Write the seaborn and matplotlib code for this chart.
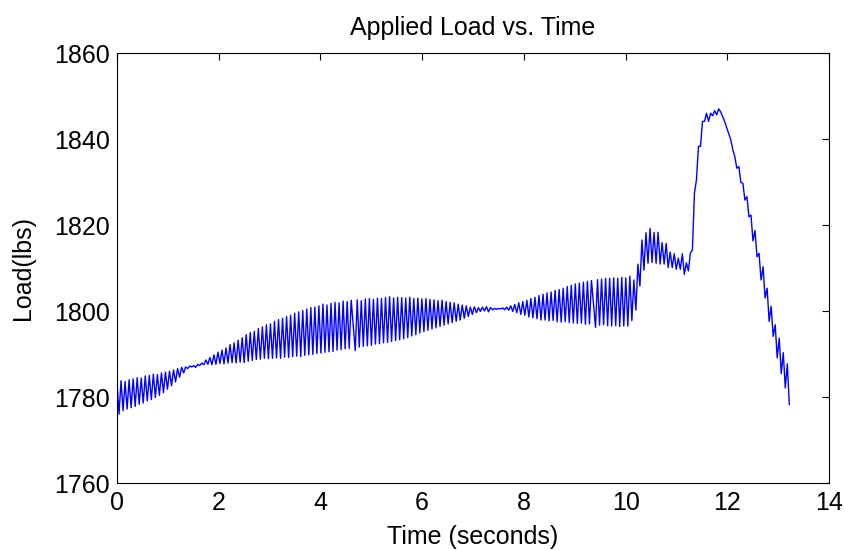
import numpy as np
import pandas as pd
import matplotlib
matplotlib.use("Agg")
import matplotlib.pyplot as plt
import seaborn as sns

# ---------------- data ----------------
END_TIME = 13.22  # seconds, time of the last recorded sample

# 0 - 10 s : oscillating load, samples alternate peak / trough
load_part1 = [
    1783.5, 1776.0, 1783.8, 1776.8, 1783.6, 1777.2, 1784.0, 1777.5,
    1784.2, 1777.8, 1784.5, 1778.3, 1784.4, 1778.6, 1784.9, 1779.1,
    1785.0, 1779.4, 1785.3, 1779.9, 1785.2, 1780.4, 1785.6, 1781.0,
    1785.8, 1781.8, 1786.0, 1782.6, 1786.3, 1783.5,
    1786.6, 1784.6, 1786.9, 1785.6,
    1787.0, 1786.6, 1787.2, 1787.0, 1787.3, 1786.9, 1787.6, 1787.3, 1787.9, 1787.5,
    1788.6, 1787.6, 1789.2, 1787.5, 1789.8, 1787.6, 1790.4, 1787.8,
    1790.9, 1787.7, 1791.4, 1787.9, 1792.2, 1788.0, 1792.6, 1787.9,
    1793.2, 1788.1, 1793.8, 1788.0, 1794.5, 1788.3, 1795.0, 1788.5,
    1795.3, 1788.7, 1795.9, 1788.8, 1796.3, 1789.0, 1796.8, 1788.9,
    1797.0, 1789.0, 1797.6, 1789.1, 1798.0, 1789.0, 1798.3, 1789.3,
    1798.7, 1789.2, 1799.0, 1789.4, 1799.5, 1789.5, 1799.8, 1789.4,
    1800.1, 1789.7, 1800.5, 1789.8, 1800.8, 1789.9, 1800.9, 1790.1,
    1801.2, 1790.2, 1801.6, 1790.4, 1801.4, 1790.5, 1801.8, 1790.6,
    1802.0, 1790.9, 1801.9, 1791.0, 1802.3, 1791.2, 1802.2, 1791.3,
    1802.5, 1796.5, 1790.8,
]
load_part2 = [
    1802.6, 1791.6, 1802.4, 1791.8, 1802.8, 1791.9, 1802.9, 1792.0,
    1802.7, 1792.3, 1803.0, 1792.4, 1802.9, 1792.6, 1803.1, 1792.7,
    1803.3, 1792.9, 1803.0, 1793.1, 1803.2, 1793.3, 1803.1, 1793.5,
    1803.0, 1793.8, 1803.2, 1794.2, 1802.9, 1794.5, 1803.0, 1794.9,
    1802.8, 1795.2, 1802.9, 1795.5, 1802.7, 1795.8, 1802.6, 1796.1,
    1802.4, 1796.4, 1802.5, 1796.7, 1802.2, 1797.0, 1802.0, 1797.3,
    1801.9, 1797.6, 1801.6, 1797.9, 1801.4, 1798.3, 1801.2, 1798.7,
    1800.9, 1799.2, 1801.0, 1799.6, 1800.8, 1799.9,
    1800.9, 1800.0, 1801.0, 1799.8, 1800.8, 1800.3, 1800.6, 1800.4,
    1800.6, 1800.5, 1800.7, 1800.3, 1800.9, 1800.2,
    1801.2, 1799.9, 1801.5, 1799.6, 1801.9, 1799.2, 1802.2, 1799.0,
    1802.5, 1798.6, 1802.9, 1798.4, 1803.2, 1798.2, 1803.6, 1797.9,
    1803.9, 1797.9, 1804.2, 1797.7, 1804.4, 1797.8, 1804.8, 1797.5,
    1805.0, 1797.4, 1805.3, 1797.5, 1805.7, 1797.3, 1806.0, 1797.2,
    1806.3, 1797.1, 1806.5, 1797.2, 1806.7, 1796.9, 1806.9, 1797.0,
    1807.1, 1801.5, 1796.2,
    1807.3, 1796.7, 1807.4, 1796.8, 1807.6, 1796.6, 1807.6, 1796.5,
    1807.7, 1796.6, 1807.6, 1796.4, 1807.8, 1796.5, 1807.7, 1796.5,
]
# 10 s onward : step, peak and unloading
load_part3 = [
    1808.1, 1797.8, 1807.2, 1800.2, 1810.9, 1805.8, 1816.5, 1809.5, 1818.2, 1811.1,
    1819.2, 1811.3, 1818.3, 1811.1, 1818.3, 1810.9, 1815.9, 1810.9, 1815.7, 1810.1,
    1813.7, 1810.1, 1813.3, 1809.7, 1812.3, 1809.7, 1813.3, 1808.5, 1811.2, 1809.3,
    1813.5, 1814.2, 1827.4, 1830.5, 1838.3, 1838.3, 1844.1, 1844.1, 1846.0, 1844.1,
    1846.0, 1845.4, 1846.6, 1845.6, 1847.0, 1846.3, 1845.2, 1844.0, 1842.6, 1841.2,
    1839.8, 1837.5, 1835.9, 1833.2, 1833.6, 1829.9, 1829.7, 1825.8, 1826.6, 1821.9,
    1822.3, 1816.3, 1818.7, 1812.6, 1813.4, 1807.2, 1810.3, 1803.0, 1805.3, 1797.6,
    1801.1, 1794.1, 1796.8, 1789.1, 1793.7, 1785.4, 1790.3, 1782.1, 1787.7, 1778.2,
]

title = "Applied Load vs. Time"
x_label = "Time (seconds)"
y_label = "Load(lbs)"
x_ticks = [0, 2, 4, 6, 8, 10, 12, 14]
y_ticks = [1760, 1780, 1800, 1820, 1840, 1860]

load = np.array(load_part1 + load_part2 + load_part3)
time = np.linspace(0.0, END_TIME, len(load))  # uniform sampling clock
df = pd.DataFrame({"time": time, "load": load})

# ---------------- plot ----------------
sns.set_theme(style="white")
plt.rcParams["font.family"] = ["Liberation Sans", "DejaVu Sans"]

fig = plt.figure(figsize=(8.44, 5.5), dpi=100)
ax = fig.add_axes([117 / 844, 1 - 483 / 550, (829 - 117) / 844, (483 - 53) / 550])

sns.lineplot(data=df, x="time", y="load", ax=ax, color="#0000ff",
             linewidth=1.0, estimator=None, sort=False)

ax.set_xlim(x_ticks[0], x_ticks[-1])
ax.set_ylim(y_ticks[0], y_ticks[-1])
ax.set_xticks(x_ticks)
ax.set_yticks(y_ticks)
ax.tick_params(direction="in", length=5, width=0.8, top=True, right=True,
               labelsize=18, colors="black")
ax.tick_params(axis="x", pad=6)
ax.tick_params(axis="y", pad=5)
for s in ax.spines.values():
    s.set_visible(True)
    s.set_color("black")
    s.set_linewidth(0.8)

ax.set_title(title, fontsize=18, pad=13, color="black")
ax.set_xlabel(x_label, fontsize=18, labelpad=7, color="black")
ax.set_ylabel(y_label, fontsize=18, labelpad=14, color="black")

fig.savefig("out.png", dpi=100)
